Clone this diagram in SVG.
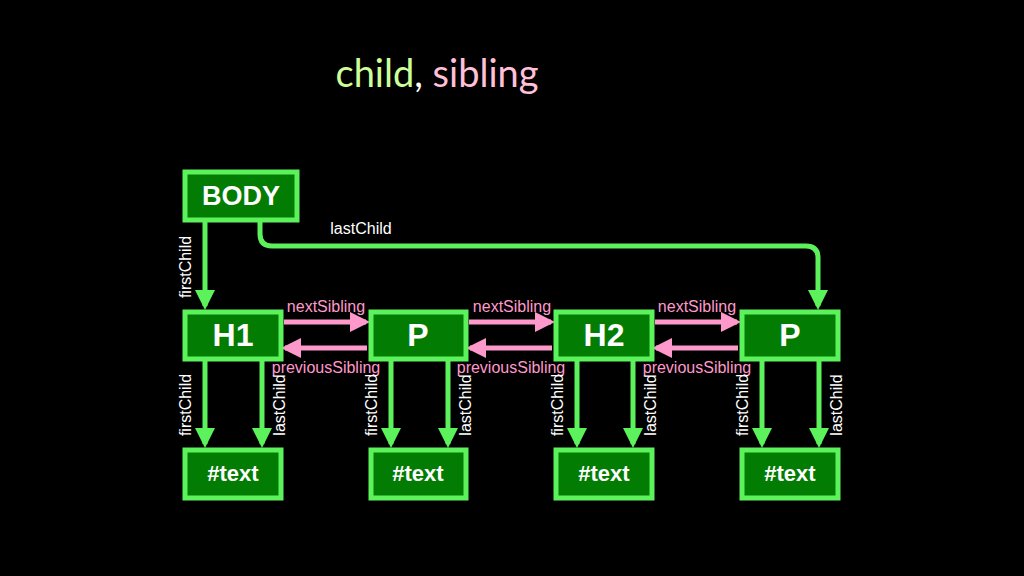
<svg xmlns="http://www.w3.org/2000/svg" width="1024" height="576" viewBox="0 0 1024 576">
<style>
.n{fill:#037c03;stroke:#5cf25c;stroke-width:5}
.t{font-family:"Liberation Sans",Arial,sans-serif;font-weight:bold;fill:#fff;text-anchor:middle}
.g{stroke:#5cf25c;stroke-width:5;fill:none}
.p{stroke:#ff99cc;stroke-width:5;fill:none}
.l{font-family:"Liberation Sans",Arial,sans-serif;font-size:16px;fill:#fff;text-anchor:middle}
.pl{font-family:"Liberation Sans",Arial,sans-serif;font-size:16px;fill:#ff99cc;text-anchor:middle}
</style>
<defs>
<marker id="ag" markerWidth="4" markerHeight="4" refX="3.2" refY="2" orient="auto" markerUnits="strokeWidth"><path d="M0,0L4,2L0,4z" fill="#5cf25c"/></marker>
<marker id="ap" markerWidth="4" markerHeight="4" refX="3.2" refY="2" orient="auto" markerUnits="strokeWidth"><path d="M0,0L4,2L0,4z" fill="#ff99cc"/></marker>
</defs>
<rect width="1024" height="576" fill="#000"/>
<text x="437" y="87" font-family="Lato,'Open Sans',sans-serif" font-size="38" text-anchor="middle"><tspan fill="#ccff99">child</tspan><tspan fill="#fff">, </tspan><tspan fill="#ffc0d8">sibling</tspan></text>
<g id="connectors">
<path class="g" d="M205,221V306" marker-end="url(#ag)"/>
<path class="g" d="M260,221V234Q260,246 272,246H806Q818,246 818,258V306" marker-end="url(#ag)"/>
<path class="g" d="M205,360V444" marker-end="url(#ag)"/><path class="g" d="M262,360V444" marker-end="url(#ag)"/>
<path class="g" d="M391,360V444" marker-end="url(#ag)"/><path class="g" d="M448,360V444" marker-end="url(#ag)"/>
<path class="g" d="M577,360V444" marker-end="url(#ag)"/><path class="g" d="M633,360V444" marker-end="url(#ag)"/>
<path class="g" d="M762,360V444" marker-end="url(#ag)"/><path class="g" d="M819,360V444" marker-end="url(#ag)"/>
<path class="p" d="M284,322H366" marker-end="url(#ap)"/><path class="p" d="M367,348H285" marker-end="url(#ap)"/>
<path class="p" d="M469,322H551" marker-end="url(#ap)"/><path class="p" d="M552,348H470" marker-end="url(#ap)"/>
<path class="p" d="M655,322H737" marker-end="url(#ap)"/><path class="p" d="M738,348H656" marker-end="url(#ap)"/>
<text class="l" x="361" y="234">lastChild</text>
<text class="l" transform="translate(191,267) rotate(-90)">firstChild</text>
<text class="pl" x="326" y="312">nextSibling</text><text class="pl" x="512" y="312">nextSibling</text><text class="pl" x="697" y="312">nextSibling</text>
<text class="pl" x="326" y="373">previousSibling</text><text class="pl" x="511" y="373">previousSibling</text><text class="pl" x="697" y="373">previousSibling</text>
<text class="l" transform="translate(191,405) rotate(-90)">firstChild</text><text class="l" transform="translate(285,405) rotate(-90)">lastChild</text>
<text class="l" transform="translate(377,405) rotate(-90)">firstChild</text><text class="l" transform="translate(471,405) rotate(-90)">lastChild</text>
<text class="l" transform="translate(563,405) rotate(-90)">firstChild</text><text class="l" transform="translate(656,405) rotate(-90)">lastChild</text>
<text class="l" transform="translate(748,405) rotate(-90)">firstChild</text><text class="l" transform="translate(842,405) rotate(-90)">lastChild</text>
</g>
<g id="body"><rect class="n" x="185" y="172" width="112" height="48"/><text class="t" x="241" y="205" font-size="27">BODY</text></g>
<g id="h1"><rect class="n" x="185" y="312" width="96" height="47"/><text class="t" x="233" y="346" font-size="32">H1</text></g>
<g id="p1"><rect class="n" x="371" y="312" width="95" height="47"/><text class="t" x="418" y="346" font-size="32">P</text></g>
<g id="h2"><rect class="n" x="556" y="312" width="96" height="47"/><text class="t" x="604" y="346" font-size="32">H2</text></g>
<g id="p2"><rect class="n" x="742" y="312" width="96" height="47"/><text class="t" x="790" y="346" font-size="32">P</text></g>
<g id="t1"><rect class="n" x="185" y="450" width="96" height="48"/><text class="t" x="233" y="481" font-size="22">#text</text></g>
<g id="t2"><rect class="n" x="371" y="450" width="95" height="48"/><text class="t" x="418" y="481" font-size="22">#text</text></g>
<g id="t3"><rect class="n" x="556" y="450" width="96" height="48"/><text class="t" x="604" y="481" font-size="22">#text</text></g>
<g id="t4"><rect class="n" x="742" y="450" width="96" height="48"/><text class="t" x="790" y="481" font-size="22">#text</text></g>
</svg>
